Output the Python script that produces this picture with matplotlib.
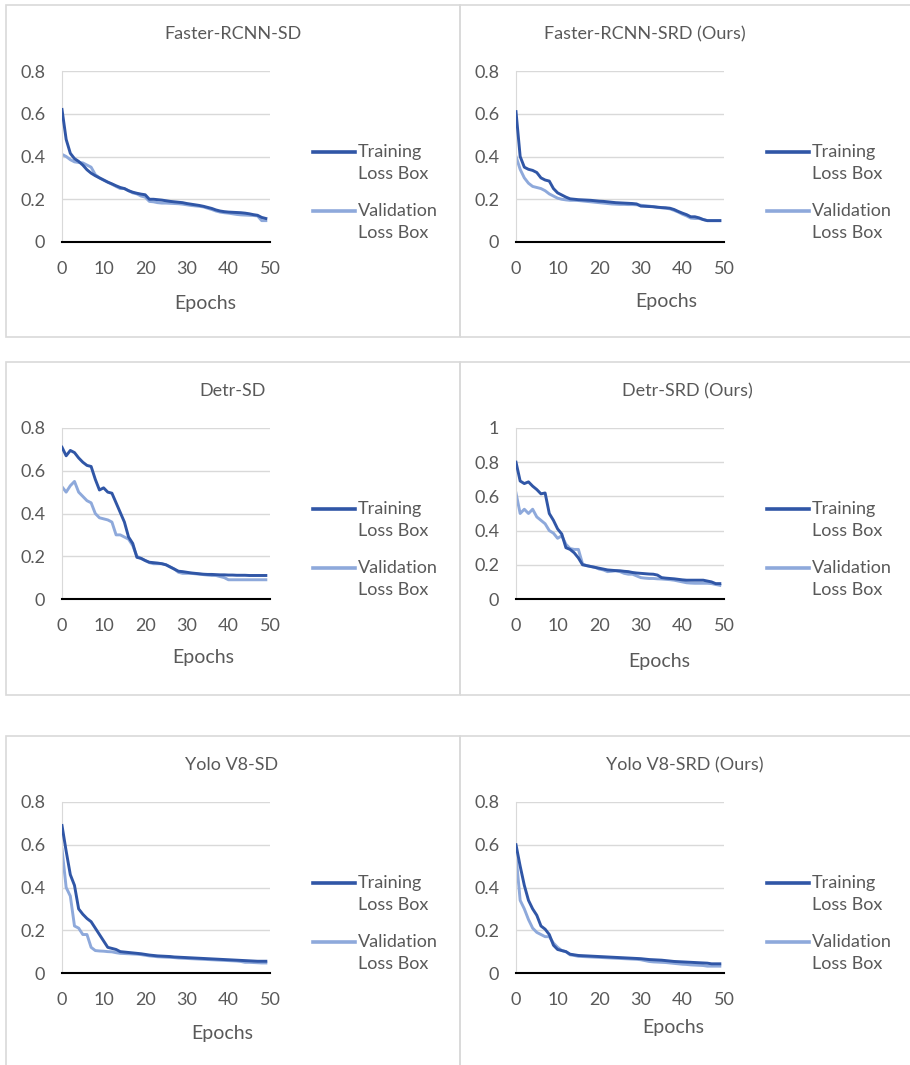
import matplotlib.pyplot as plt
import numpy as np
from matplotlib.lines import Line2D
from matplotlib.patches import Rectangle

plt.rcParams['font.family'] = ['Lato', 'DejaVu Sans']

epochs = np.arange(50)

titles = ["Faster-RCNN-SD", "Faster-RCNN-SRD (Ours)",
          "Detr-SD", "Detr-SRD (Ours)",
          "Yolo V8-SD", "Yolo V8-SRD (Ours)"]

# Faster-RCNN-SD
frcnn_sd_train = [0.62, 0.48, 0.415, 0.39, 0.377, 0.36, 0.338, 0.322, 0.31, 0.30,
                  0.29, 0.28, 0.272, 0.263, 0.255, 0.25, 0.24, 0.233, 0.228, 0.224,
                  0.221, 0.20, 0.20, 0.198, 0.196, 0.193, 0.19, 0.188, 0.186, 0.184,
                  0.18, 0.177, 0.174, 0.171, 0.167, 0.162, 0.157, 0.15, 0.145, 0.142,
                  0.14, 0.139, 0.138, 0.137, 0.135, 0.132, 0.128, 0.125, 0.115, 0.11]
frcnn_sd_val = [0.41, 0.40, 0.385, 0.375, 0.372, 0.37, 0.36, 0.35, 0.315, 0.30,
                0.29, 0.28, 0.27, 0.26, 0.25, 0.25, 0.24, 0.23, 0.225, 0.215,
                0.21, 0.19, 0.188, 0.184, 0.182, 0.182, 0.181, 0.18, 0.179, 0.177,
                0.174, 0.171, 0.169, 0.167, 0.164, 0.158, 0.152, 0.145, 0.14, 0.137,
                0.135, 0.132, 0.129, 0.127, 0.126, 0.125, 0.124, 0.122, 0.10, 0.10]

# Faster-RCNN-SRD
frcnn_srd_train = [0.61, 0.40, 0.35, 0.34, 0.335, 0.325, 0.30, 0.29, 0.285, 0.25,
                   0.23, 0.22, 0.21, 0.202, 0.20, 0.198, 0.197, 0.196, 0.195, 0.193,
                   0.191, 0.19, 0.188, 0.186, 0.184, 0.183, 0.182, 0.181, 0.18, 0.178,
                   0.168, 0.167, 0.166, 0.165, 0.163, 0.161, 0.16, 0.158, 0.152, 0.143,
                   0.135, 0.128, 0.118, 0.118, 0.113, 0.105, 0.10, 0.10, 0.10, 0.10]
frcnn_srd_val = [0.40, 0.34, 0.30, 0.275, 0.26, 0.255, 0.25, 0.24, 0.225, 0.215,
                 0.205, 0.20, 0.197, 0.195, 0.195, 0.194, 0.192, 0.19, 0.188, 0.186,
                 0.184, 0.182, 0.18, 0.178, 0.177, 0.176, 0.176, 0.175, 0.175, 0.174,
                 0.172, 0.17, 0.168, 0.165, 0.162, 0.16, 0.158, 0.155, 0.148, 0.14,
                 0.13, 0.122, 0.112, 0.11, 0.11, 0.105, 0.10, 0.10, 0.10, 0.10]

# Detr-SD
detr_sd_train = [0.71, 0.67, 0.695, 0.685, 0.66, 0.64, 0.625, 0.62, 0.56, 0.51,
                 0.52, 0.50, 0.495, 0.45, 0.405, 0.36, 0.29, 0.26, 0.195, 0.19,
                 0.18, 0.172, 0.17, 0.168, 0.165, 0.16, 0.15, 0.14, 0.13, 0.128,
                 0.125, 0.122, 0.12, 0.118, 0.116, 0.115, 0.115, 0.114, 0.113, 0.113,
                 0.112, 0.112, 0.111, 0.111, 0.111, 0.11, 0.11, 0.11, 0.11, 0.11]
detr_sd_val = [0.525, 0.50, 0.53, 0.55, 0.50, 0.48, 0.46, 0.45, 0.40, 0.38,
               0.375, 0.37, 0.36, 0.30, 0.30, 0.29, 0.28, 0.25, 0.20, 0.19,
               0.18, 0.17, 0.165, 0.165, 0.165, 0.16, 0.15, 0.14, 0.125, 0.12,
               0.12, 0.12, 0.118, 0.116, 0.114, 0.112, 0.11, 0.11, 0.105, 0.10,
               0.09, 0.09, 0.09, 0.09, 0.09, 0.09, 0.09, 0.09, 0.09, 0.09]

# Detr-SRD
detr_srd_train = [0.80, 0.69, 0.675, 0.685, 0.66, 0.64, 0.615, 0.62, 0.50, 0.46,
                  0.41, 0.38, 0.30, 0.29, 0.27, 0.24, 0.20, 0.195, 0.19, 0.185,
                  0.18, 0.175, 0.17, 0.168, 0.166, 0.165, 0.162, 0.16, 0.155, 0.152,
                  0.15, 0.148, 0.146, 0.145, 0.14, 0.125, 0.122, 0.12, 0.118, 0.115,
                  0.112, 0.11, 0.11, 0.11, 0.11, 0.11, 0.105, 0.10, 0.09, 0.09]
detr_srd_val = [0.62, 0.50, 0.525, 0.50, 0.525, 0.48, 0.46, 0.44, 0.40, 0.385,
                0.355, 0.37, 0.32, 0.295, 0.29, 0.29, 0.205, 0.195, 0.19, 0.185,
                0.175, 0.17, 0.16, 0.162, 0.165, 0.16, 0.15, 0.145, 0.145, 0.135,
                0.125, 0.122, 0.12, 0.12, 0.118, 0.117, 0.115, 0.113, 0.11, 0.105,
                0.10, 0.095, 0.093, 0.092, 0.092, 0.092, 0.092, 0.09, 0.085, 0.08]

# Yolo V8-SD
yolo_sd_train = [0.69, 0.57, 0.46, 0.41, 0.30, 0.275, 0.255, 0.24, 0.21, 0.18,
                 0.15, 0.12, 0.115, 0.11, 0.10, 0.098, 0.096, 0.094, 0.092, 0.09,
                 0.087, 0.084, 0.082, 0.08, 0.079, 0.078, 0.077, 0.075, 0.074, 0.073,
                 0.072, 0.071, 0.07, 0.069, 0.068, 0.067, 0.066, 0.065, 0.064, 0.063,
                 0.062, 0.061, 0.06, 0.059, 0.058, 0.057, 0.056, 0.055, 0.055, 0.055]
yolo_sd_val = [0.58, 0.40, 0.36, 0.22, 0.21, 0.18, 0.18, 0.12, 0.105, 0.103,
               0.102, 0.10, 0.099, 0.095, 0.092, 0.091, 0.09, 0.089, 0.088, 0.086,
               0.083, 0.08, 0.078, 0.076, 0.075, 0.074, 0.073, 0.072, 0.07, 0.069,
               0.068, 0.067, 0.066, 0.065, 0.064, 0.063, 0.062, 0.061, 0.06, 0.059,
               0.058, 0.057, 0.056, 0.054, 0.05, 0.05, 0.049, 0.048, 0.047, 0.047]

# Yolo V8-SRD
yolo_srd_train = [0.60, 0.50, 0.41, 0.34, 0.30, 0.27, 0.22, 0.205, 0.18, 0.13,
                  0.11, 0.105, 0.10, 0.088, 0.085, 0.082, 0.081, 0.08, 0.079, 0.078,
                  0.077, 0.076, 0.075, 0.074, 0.073, 0.072, 0.071, 0.07, 0.069, 0.068,
                  0.067, 0.065, 0.063, 0.062, 0.061, 0.06, 0.058, 0.056, 0.054, 0.053,
                  0.052, 0.051, 0.05, 0.049, 0.048, 0.047, 0.046, 0.043, 0.043, 0.043]
yolo_srd_val = [0.55, 0.34, 0.30, 0.25, 0.21, 0.19, 0.18, 0.17, 0.17, 0.14,
                0.12, 0.105, 0.10, 0.085, 0.082, 0.078, 0.077, 0.076, 0.075, 0.074,
                0.073, 0.072, 0.071, 0.07, 0.069, 0.068, 0.067, 0.066, 0.065, 0.064,
                0.062, 0.058, 0.054, 0.052, 0.051, 0.05, 0.049, 0.047, 0.045, 0.043,
                0.041, 0.04, 0.038, 0.037, 0.036, 0.035, 0.032, 0.032, 0.032, 0.032]

train_series = [frcnn_sd_train, frcnn_srd_train, detr_sd_train,
                detr_srd_train, yolo_sd_train, yolo_srd_train]
val_series = [frcnn_sd_val, frcnn_srd_val, detr_sd_val,
              detr_srd_val, yolo_sd_val, yolo_srd_val]
y_max = [0.8, 0.8, 0.8, 1.0, 0.8, 0.8]
y_step = [0.2, 0.2, 0.2, 0.2, 0.2, 0.2]

W, H = 910, 1065
C_TRAIN = "#3056A6"
C_VAL = "#8EA9DB"
C_TEXT = "#595959"
C_GRID = "#D9D9D9"
FS = 13

fig = plt.figure(figsize=(W / 100, H / 100), dpi=100)


def fx(x):
    return x / W


def fy(y):
    return 1 - y / H


# layout in pixels
col_left = [6, 460]
col_right = [460, 914]
row_top = [5, 362, 736]
row_bot = [337, 695, 1075]
ax_left = [62, 516]
ax_w = 208
ax_h = 171
ax_off = 66
title_x = [233, 645, 233, 687, 232, 685]
xlab_x = [205, 666, 203, 659, 222, 673]
xlab_y = [304, 302, 658, 661, 1034, 1027]

for i in range(6):
    r, c = i // 2, i % 2
    fig.patches.append(Rectangle((fx(col_left[c]), fy(row_bot[r])),
                                 fx(col_right[c] - col_left[c]),
                                 (row_bot[r] - row_top[r]) / H,
                                 transform=fig.transFigure, fill=False,
                                 edgecolor=C_GRID, lw=1.2, zorder=0))

    top = row_top[r] + ax_off
    ax = fig.add_axes([fx(ax_left[c]), fy(top + ax_h), ax_w / W, ax_h / H])
    ax.plot(epochs, train_series[i], color=C_TRAIN, lw=2.1, zorder=3)
    ax.plot(epochs, val_series[i], color=C_VAL, lw=2.1, zorder=2)
    ax.set_xlim(0, 50)
    ax.set_ylim(0, y_max[i])
    ax.set_xticks(range(0, 51, 10))
    yt = np.round(np.arange(0, y_max[i] + 1e-9, y_step[i]), 1)
    ax.set_yticks(yt)
    ax.set_yticklabels(["0" if v == 0 else ("1" if v == 1 else f"{v:g}") for v in yt])
    ax.grid(axis='y', color=C_GRID, lw=1)
    ax.set_axisbelow(True)
    for s in ['top', 'right']:
        ax.spines[s].set_visible(False)
    ax.spines['left'].set_color(C_GRID)
    ax.spines['bottom'].set_color('black')
    ax.spines['bottom'].set_linewidth(1.5)
    ax.spines['bottom'].set_zorder(4)
    ax.tick_params(length=0, labelsize=FS, labelcolor=C_TEXT)
    ax.tick_params(axis='y', pad=12)
    ax.tick_params(axis='x', pad=14)

    fig.text(fx(title_x[i]), fy(row_top[r] + 29), titles[i], ha='center',
             va='center', fontsize=FS, color=C_TEXT)
    fig.text(fx(xlab_x[i]), fy(xlab_y[i]), "Epochs", ha='center',
             va='center', fontsize=FS + 1, color=C_TEXT)

    lx0 = ax_left[c] + 251
    for k, (col, name) in enumerate([(C_TRAIN, "Training"), (C_VAL, "Validation")]):
        ly = top + 81 + k * 59
        fig.lines.append(Line2D([fx(lx0), fx(lx0 + 42)], [fy(ly), fy(ly)],
                                transform=fig.transFigure, color=col, lw=2.6))
        fig.text(fx(lx0 + 45), fy(ly), name, ha='left', va='center',
                 fontsize=FS, color=C_TEXT)
        fig.text(fx(lx0 + 45), fy(ly + 22), "Loss Box", ha='left', va='center',
                 fontsize=FS, color=C_TEXT)

fig.savefig("out.png", dpi=100, facecolor='white')
